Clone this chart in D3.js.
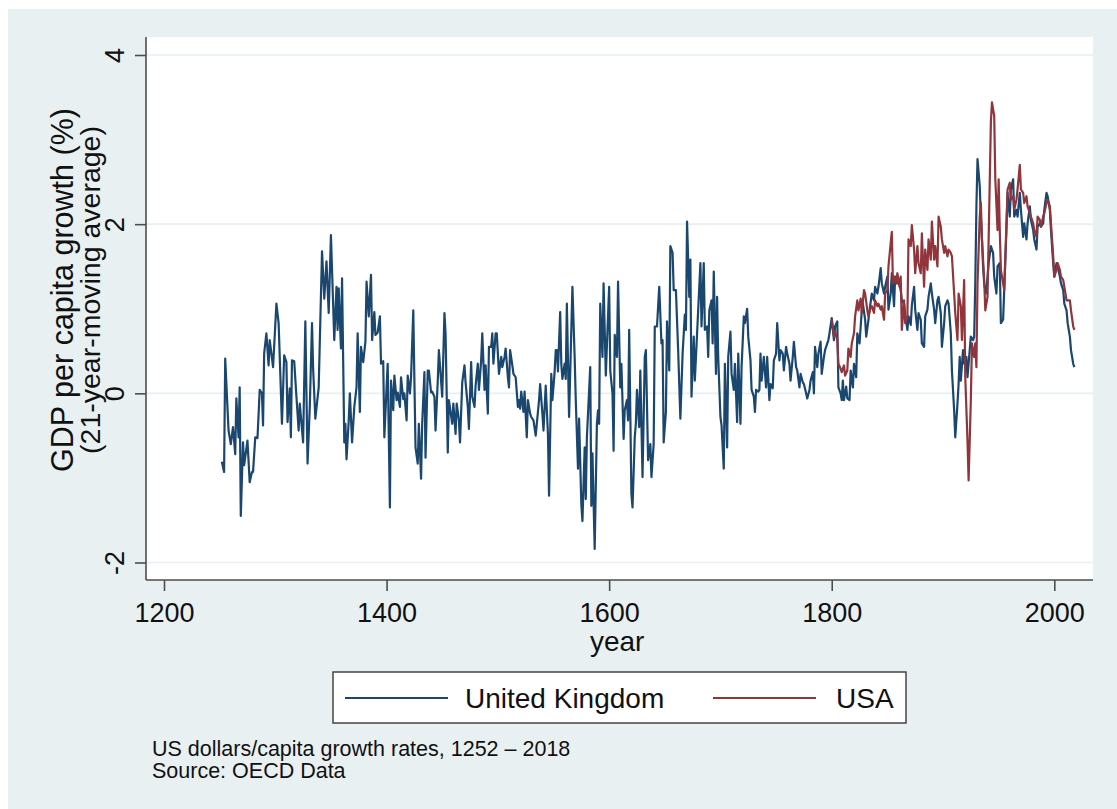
<!DOCTYPE html>
<html>
<head>
<meta charset="utf-8">
<script src="https://cdn.jsdelivr.net/npm/d3@7"></script>
<style>
  html, body { margin: 0; padding: 0; background: #ffffff; }
  svg { display: block; }
  text { font-family: "Liberation Sans", Arial, sans-serif; fill: #111; }
</style>
</head>
<body>
<svg id="chart" width="1117" height="809"></svg>
<script>
// ---- Data ----
const ukYears = [1252,1254,1255,1258,1260,1262,1264,1265,1267,1268,1269,1271,1272,1275,1277,1279,1280,1282,1284,1286,1288,1289,1290,1292,1294,1295,1298,1301,1303,1306,1308,1310,1311,1313,1314,1315,1317,1319,1321,1322,1325,1327,1329,1331,1333,1334,1336,1339,
1342,1344,1346,1348,1350,1353,1355,1356,1357,1359,1360,1362,1363,1364,1366,1367,1369,1371,1373,1374,1376,1377,1379,1381,1382,1384,1386,1387,1389,1390,1392,1394,1395,1397,1398,1400,1401,1403,1404,1406,1407,1409,1410,1412,1413,1415,1416,1418,1419,1421,1422,1424,1425,1426,1428,1429,1431,1432,1434,1435,1437,1438,1440,1441,1443,1444,1446,1447,
1450,1452,1453,1455,1456,1459,1460,1462,1463,1465,1466,1468,1470,1471,1473,1474,1476,1477,1479,1480,1482,1483,1485,1486,1488,1489,1491,1492,1494,1495,1496,1498,1499,1501,1503,1504,1506,1507,1509,1510,1511,1513,1514,1516,1518,1519,1520,1521,1523,1524,1526,1527,1529,1530,1532,1534,1535,1537,1538,
1540,1541,1543,1545,1546,1548,1549,1551,1552,1553,1554,1556,1557,1558,1560,1561,1562,1564,1566,1567,1569,1570,1572,1573,1575,1576,1578,1579,1580,1583,1584,1585,1587,1589,1590,1591,1592,1594,1595,1597,1598,1600,1601,1603,1604,1605,1607,1608,1610,1611,1613,1614,1616,1617,1618,1620,1621,1623,1624,1625,1627,1628,1630,1632,1633,1635,
1637,1638,1640,1641,1643,1645,1647,1648,1649,1651,1652,1654,1655,1657,1658,1660,1662,1664,1666,1668,1669,1670,1672,1673,1674,1676,1677,1682,1683,1685,1686,1688,1689,1690,1692,1693,1694,1696,1697,1698,1700,1701,1703,1704,1706,1707,1709,1710,1712,1713,1715,1716,1718,1719,1721,1722,1724,1725,1727,1728,1730,1731,1732,1734,1735,
1736,1737,1739,1741,1742,1744,1745,1747,1748,1750,1751,1753,1754,1756,1757,1759,1760,1762,1763,1765,1766,1768,1769,1771,1772,1774,1775,1777,1778,1780,1781,1783,1784,1785,1787,1788,1790,1791,1793,1794,1796,1797,1798,1800,1802,1803,1805,1806,1808,1809,1810,1811,1813,1814,1816,1817,1819,1820,1822,1823,1825,1827,1828,1830,1831,1833,1834,
1836,1838,1839,1841,1842,1844,1845,1847,1848,1850,1851,1853,1854,1856,1857,1859,1860,1862,1863,1865,1866,1868,1869,1871,1872,1874,1875,1877,1878,1880,1881,1883,1884,1886,1887,1889,1890,1892,1893,1895,1896,1898,1899,1901,1902,1904,1905,1907,1908,1910,1911,1913,1914,1915,1916,1918,1919,1921,1922,1924,1925,1927,1928,1929,1930,1931,
1933,1934,1935,1936,1937,1938,1939,1940,1941,1943,1945,1946,1948,1949,1951,1952,1954,1955,1957,1958,1960,1961,1963,1964,1966,1967,1969,1970,1972,1973,1975,1976,1978,1979,1981,1982,1984,1985,1987,1988,1990,1991,1993,1994,1996,1997,1999,2000,2002,2003,2005,2006,2008,2009,2011,2012,2014,2015,2017,2018];
const ukGrowth = [-0.81,-0.93,0.41,-0.44,-0.60,-0.40,-0.72,-0.06,-0.52,0.07,-1.45,-0.58,-0.85,-0.56,-1.05,-0.93,-0.93,-0.52,-0.53,0.04,0.00,-0.38,0.47,0.71,0.33,0.63,0.31,1.06,0.83,-0.36,0.45,0.37,-0.34,0.06,-0.52,0.39,0.38,-0.04,-0.44,-0.12,-0.58,0.85,-0.83,-0.16,0.83,0.29,-0.30,0.07,
1.68,1.12,1.56,0.95,1.87,0.63,1.26,0.75,1.24,0.53,1.36,-0.58,-0.36,-0.78,-0.32,0.00,-0.58,-0.16,0.07,0.71,-0.22,0.55,0.37,0.61,1.32,0.91,1.40,0.63,0.96,0.69,0.72,0.91,0.35,0.38,-0.52,0.07,0.35,-1.35,0.15,-0.20,0.21,-0.08,0.01,-0.16,0.19,-0.07,0.00,-0.32,0.21,0.00,0.19,0.98,0.15,-0.64,-0.83,-0.36,-1.01,-0.36,0.25,-0.76,0.27,0.27,0.01,0.02,-0.04,-0.44,0.15,0.51,
-0.04,0.95,0.71,-0.70,-0.08,-0.36,-0.12,-0.48,-0.12,-0.32,-0.58,0.13,0.33,0.13,-0.16,-0.42,0.37,-0.04,-0.16,0.09,0.35,0.04,0.39,0.71,0.04,0.33,-0.24,0.55,0.55,0.71,0.35,0.71,0.71,0.23,0.43,0.31,0.43,0.53,0.19,0.07,0.51,0.33,0.23,0.19,-0.16,-0.08,-0.18,0.02,-0.22,0.02,-0.52,-0.08,-0.24,-0.28,-0.32,-0.50,-0.36,-0.08,0.11,
-0.24,-0.44,0.09,-0.48,-1.21,0.23,-0.08,0.25,0.51,0.51,0.26,0.96,0.35,0.17,0.35,0.17,1.06,-0.28,0.75,1.26,0.43,-0.08,-0.89,-0.30,-1.31,-1.51,-0.64,-1.25,-0.52,0.31,-1.33,-0.71,-1.84,-0.36,-0.20,-0.36,1.06,0.43,1.30,0.21,0.57,1.26,0.27,0.00,-0.68,0.69,0.43,1.32,0.07,0.35,-0.54,-0.20,-0.08,-0.32,0.75,-1.19,-1.35,-0.52,-0.36,0.04,-0.40,0.27,-0.99,0.43,0.51,-0.79,
-0.60,-0.99,-0.60,0.79,0.79,1.26,0.59,0.63,-0.58,-0.22,0.85,0.27,1.74,1.66,1.22,1.22,0.51,-0.30,0.47,0.93,0.75,2.03,1.14,1.58,-0.04,0.67,0.15,1.54,0.79,1.54,0.75,0.79,0.43,0.98,1.10,0.59,1.44,0.23,1.14,0.43,-0.28,-0.38,-0.89,0.35,-0.64,0.43,0.73,0.23,0.04,0.35,-0.34,0.47,-0.36,0.31,0.91,0.83,1.00,0.67,0.39,0.04,-0.04,-0.22,0.04,0.02,0.04,
0.47,0.15,0.43,0.07,0.43,-0.08,0.11,0.06,0.39,0.47,0.83,0.39,0.51,0.47,0.27,0.55,0.47,0.35,0.15,0.43,0.61,0.31,0.27,0.07,0.23,0.13,0.11,0.00,-0.06,0.04,0.15,0.25,0.00,0.55,0.31,0.47,0.61,0.23,0.43,0.51,0.59,0.63,0.71,0.89,0.63,0.79,0.85,0.07,0.00,-0.08,0.15,-0.08,0.08,-0.06,-0.08,0.27,0.07,0.35,0.19,0.71,0.59,0.98,1.06,0.87,0.67,0.87,0.98,
1.18,1.10,1.26,1.18,1.26,1.48,1.30,1.18,1.26,1.38,0.99,1.18,1.42,1.03,1.38,1.30,1.34,1.22,1.10,1.06,0.93,0.75,0.91,0.81,1.04,1.26,0.99,0.75,0.95,0.87,0.59,0.55,0.91,0.99,1.14,1.30,1.18,0.99,0.83,1.10,1.14,0.95,0.55,0.83,1.03,1.10,1.06,0.71,0.27,-0.20,-0.52,-0.12,0.11,0.43,0.15,0.51,0.35,0.43,0.19,0.51,0.67,0.63,0.67,1.30,2.20,2.77,
2.45,2.09,1.82,1.50,1.30,1.22,1.18,1.38,1.54,1.74,1.66,1.38,1.18,1.50,1.54,0.83,0.87,1.22,1.93,2.37,2.09,2.41,2.53,2.09,2.17,2.09,2.37,2.17,1.85,2.01,1.82,2.01,2.21,2.05,1.93,1.82,1.70,1.97,2.01,1.97,2.01,2.17,2.37,2.33,2.17,1.93,1.54,1.38,1.54,1.50,1.38,1.30,1.22,1.06,0.98,0.83,0.67,0.51,0.35,0.31];

const usYears = [1800,1802,1803,1805,1806,1808,1809,1811,1812,1814,1815,1817,1818,1820,1821,1823,1824,1826,1827,1829,1830,1832,1833,1835,1836,1838,1839,1841,1842,1844,1845,1847,1848,1850,1851,1853,1854,1855,1856,1858,1859,1861,1862,1863,1865,1866,1868,1869,1871,1872,1874,1875,1877,1878,1880,1881,1883,1884,1886,1887,1889,1890,1892,1893,1895,1896,1898,1899,1901,1902,1904,1905,1907,1908,1910,1911,1913,1914,1916,1917,1919,1920,1922,1923,1925,1926,1928,1929,1930,1931,1933,1934,1935,1937,1938,1940,1941,1943,1944,1946,1947,1949,1950,1951,1952,1954,1955,1957,1958,1960,1961,1963,1964,1966,1967,1969,1970,1972,1973,1975,1976,1978,1979,1981,1982,1984,1985,1987,1988,1990,1991,1993,1994,1996,1997,1999,2000,2002,2003,2005,2006,2008,2009,2011,2012,2014,2015,2017,2018];
const usGrowth = [0.87,0.67,0.73,0.63,0.35,0.29,0.25,0.33,0.21,0.27,0.53,0.43,0.59,0.71,0.91,1.10,0.98,1.12,0.95,1.22,1.18,0.98,0.91,1.02,1.03,0.95,1.10,1.03,1.06,0.99,1.03,0.87,1.18,1.22,1.50,1.78,1.91,1.30,1.38,1.30,1.42,1.26,1.38,0.75,1.10,0.83,0.91,1.82,1.74,1.99,1.70,1.42,1.74,1.54,1.42,1.89,1.26,1.70,1.46,1.82,1.58,2.03,1.58,1.74,1.50,2.09,1.97,1.82,1.66,1.74,1.62,1.70,1.66,1.62,1.18,0.95,0.63,1.18,1.03,0.63,1.34,0.19,-0.56,-1.03,-0.08,0.59,0.43,0.59,0.31,1.30,2.09,2.25,1.82,1.34,0.98,1.14,1.82,3.20,3.44,3.28,2.53,1.93,2.53,1.93,1.46,1.30,1.22,2.01,2.41,2.49,2.29,2.33,2.17,2.29,2.41,2.70,2.41,2.37,2.25,2.33,2.21,2.13,2.09,2.01,1.93,1.85,2.09,2.05,1.97,2.09,2.13,2.25,2.29,2.21,2.01,1.62,1.38,1.46,1.54,1.46,1.38,1.34,1.26,1.10,1.10,1.10,0.98,0.79,0.75];

const seriesNames = ["United Kingdom", "USA"];
const seriesColors = ["#1a476f", "#90353b"];
const xTicks = [1200, 1400, 1600, 1800, 2000];
const yTicks = [-2, 0, 2, 4];
const yTitleLines = ["GDP per capita growth (%)", "(21-year-moving average)"];
const xTitle = "year";
const noteLines = ["US dollars/capita growth rates, 1252 \u2013 2018", "Source: OECD Data"];

// ---- Layout ----
const svg = d3.select("#chart");
const W = 1117, H = 809;
const plot = { left: 146, right: 1093, top: 37, bottom: 580 };

svg.append("rect").attr("x", 8).attr("y", 9).attr("width", W - 8).attr("height", H - 9).attr("fill", "#e9f0f2");
svg.append("rect").attr("x", plot.left).attr("y", plot.top)
  .attr("width", plot.right - plot.left).attr("height", plot.bottom - plot.top).attr("fill", "#ffffff");

// scales: 1200 -> 164, 2000 -> 1054.3 ; 4 -> 55, -2 -> 562.5
const pxPerYear = (1054.3 - 164) / 800;
const x = d3.scaleLinear()
  .domain([1200 + (plot.left - 164) / pxPerYear, 1200 + (plot.right - 164) / pxPerYear])
  .range([plot.left, plot.right]);
const pxPerUnit = (562.5 - 55) / 6;
const y = d3.scaleLinear()
  .domain([4 - (plot.bottom - 55) / pxPerUnit, 4 + (55 - plot.top) / pxPerUnit])
  .range([plot.bottom, plot.top]);

// gridlines
svg.append("g").selectAll("line").data(yTicks).join("line")
  .attr("x1", plot.left).attr("x2", plot.right)
  .attr("y1", d => y(d)).attr("y2", d => y(d))
  .attr("stroke", "#e6eff1").attr("stroke-width", 1.6);

// lines
const line = d3.line().x(d => x(d[0])).y(d => y(d[1]));
const ukData = ukYears.map((yr, i) => [yr, ukGrowth[i]]);
const usData = usYears.map((yr, i) => [yr, usGrowth[i]]);
svg.append("path").datum(ukData).attr("d", line)
  .attr("fill", "none").attr("stroke", seriesColors[0]).attr("stroke-width", 2.2).attr("stroke-linejoin", "round");
svg.append("path").datum(usData).attr("d", line)
  .attr("fill", "none").attr("stroke", seriesColors[1]).attr("stroke-width", 2.2).attr("stroke-linejoin", "round");

// axes
const axisColor = "#4d4d4d";
const xAxis = d3.axisBottom(x).tickValues(xTicks).tickSize(11).tickFormat(d => String(d));
const gx = svg.append("g").attr("transform", `translate(0,${plot.bottom})`).call(xAxis);
gx.select(".domain").attr("stroke", axisColor).attr("stroke-width", 1.6).attr("d", `M${plot.left},0H${plot.right}`);
gx.selectAll(".tick line").attr("stroke", axisColor).attr("stroke-width", 1.6);
gx.selectAll(".tick text").attr("font-size", 27).attr("font-family", "Liberation Sans, Arial, sans-serif")
  .attr("fill", "#111").attr("dy", null).attr("y", 42);

const yAxis = d3.axisLeft(y).tickValues(yTicks).tickSize(11).tickFormat(d => String(d));
const gy = svg.append("g").attr("transform", `translate(${plot.left},0)`).call(yAxis);
gy.select(".domain").attr("stroke", axisColor).attr("stroke-width", 1.6).attr("d", `M0,${plot.top}V${plot.bottom}`);
gy.selectAll(".tick line").attr("stroke", axisColor).attr("stroke-width", 1.6);
gy.selectAll(".tick text").attr("font-size", 27).attr("font-family", "Liberation Sans, Arial, sans-serif")
  .attr("fill", "#111").attr("text-anchor", "middle")
  .attr("x", null).attr("dy", null)
  .attr("transform", "translate(-22,0) rotate(-90)");

// axis titles
svg.append("text").attr("x", (164 + 1054.3) / 2 + 8).attr("y", 651)
  .attr("text-anchor", "middle").attr("font-size", 28).text(xTitle);
const yTitleX = [73, 100];
const yTitleSize = [30.5, 28.5];
yTitleLines.forEach((t, i) => {
  svg.append("text").attr("transform", `translate(${yTitleX[i]},290) rotate(-90)`)
    .attr("text-anchor", "middle").attr("font-size", yTitleSize[i]).text(t);
});

// legend
const lg = svg.append("g");
lg.append("rect").attr("x", 333).attr("y", 672).attr("width", 573).attr("height", 51)
  .attr("fill", "#ffffff").attr("stroke", "#444").attr("stroke-width", 1.5);
const legendItems = [
  { x1: 345, x2: 448, tx: 465 },
  { x1: 713, x2: 816, tx: 836 }
];
legendItems.forEach((it, i) => {
  lg.append("line").attr("x1", it.x1).attr("x2", it.x2).attr("y1", 698).attr("y2", 698)
    .attr("stroke", seriesColors[i]).attr("stroke-width", 2.2);
  lg.append("text").attr("x", it.tx).attr("y", 708).attr("font-size", 28).text(seriesNames[i]);
});

// notes
noteLines.forEach((t, i) => {
  svg.append("text").attr("x", 152).attr("y", 756 + i * 22).attr("font-size", 21.5).text(t);
});
</script>
</body>
</html>
